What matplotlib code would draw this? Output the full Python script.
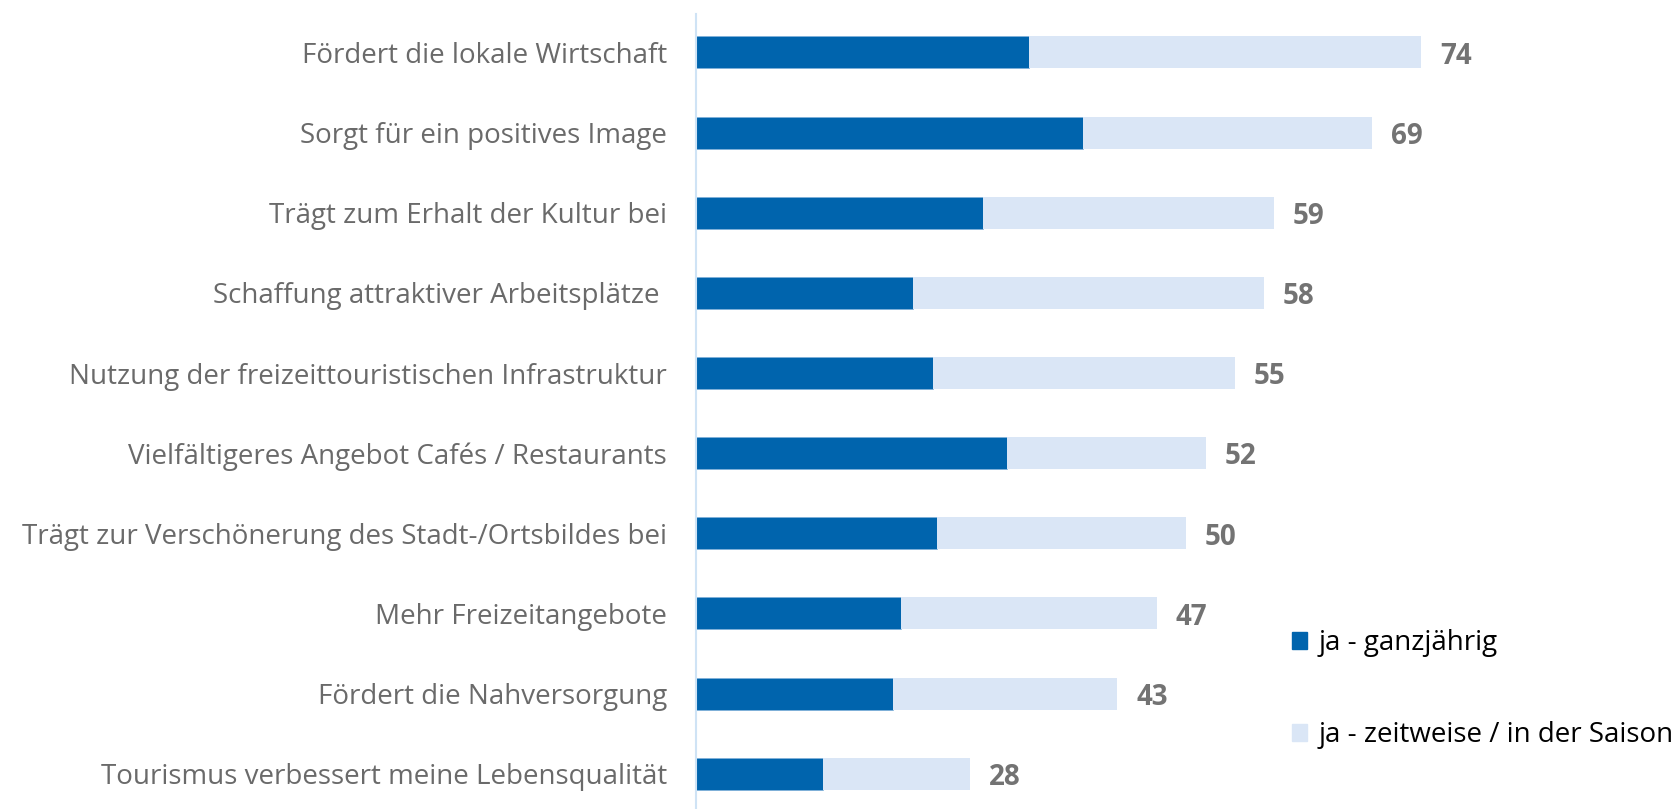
import numpy as np
import matplotlib.pyplot as plt
from matplotlib.patches import Patch

# data (percent)
categories = [
    "Fördert die lokale Wirtschaft",
    "Sorgt für ein positives Image",
    "Trägt zum Erhalt der Kultur bei",
    "Schaffung attraktiver Arbeitsplätze ",
    "Nutzung der freizeittouristischen Infrastruktur",
    "Vielfältigeres Angebot Cafés / Restaurants",
    "Trägt zur Verschönerung des Stadt-/Ortsbildes bei",
    "Mehr Freizeitangebote",
    "Fördert die Nahversorgung",
    "Tourismus verbessert meine Lebensqualität",
]
totals = [74, 69, 59, 58, 55, 52, 50, 47, 43, 28]
ganzjaehrig = [34, 39.5, 29.3, 22.1, 24.2, 31.7, 24.6, 20.9, 20.1, 13]
series_labels = ["ja - ganzjährig", "ja - zeitweise / in der Saison"]

dark = "#0064ad"
light = "#dae6f6"
label_grey = "#6a6a6a"
value_grey = "#737373"

plt.rcParams['font.family'] = ['Open Sans', 'DejaVu Sans']

fig = plt.figure(figsize=(16.78, 8.09), dpi=100)
ax = fig.add_axes([0.4148, 0.0, 0.5256, 0.9827])

y = np.arange(len(categories))
saison = np.array(totals) - np.array(ganzjaehrig)
ax.barh(y, ganzjaehrig, height=0.4, color=dark, edgecolor="#7fb0dc", linewidth=0.4)
ax.barh(y, saison, left=ganzjaehrig, height=0.4, color=light)

# value labels: baseline set so the digits sit centred on the bar
for yi, t in zip(y, totals):
    ax.text(t + 1.9, yi + 0.14, str(t), va='baseline', ha='left', fontsize=20,
            fontweight='bold', color=value_grey)

ax.set_xlim(0, 90)
ax.set_ylim(len(categories) - 1 + 0.44, -0.48)
ax.set_yticks(y)
ax.set_yticklabels(categories, fontsize=20, color=label_grey)
ax.tick_params(axis='y', length=0, pad=21)
ax.set_xticks([])
for side in ['top', 'right', 'bottom']:
    ax.spines[side].set_visible(False)
ax.spines['left'].set_color("#cfe3f5")
ax.spines['left'].set_linewidth(1.5)

handles = [Patch(color=dark), Patch(color=light)]
fig.legend(handles, series_labels, loc='center left', bbox_to_anchor=(0.77, 0.148),
           frameon=False, fontsize=20, borderpad=0, borderaxespad=0,
           handlelength=0.55, handleheight=0.55, handletextpad=0.4,
           labelspacing=2.3)

fig.savefig("out.png", dpi=100)
